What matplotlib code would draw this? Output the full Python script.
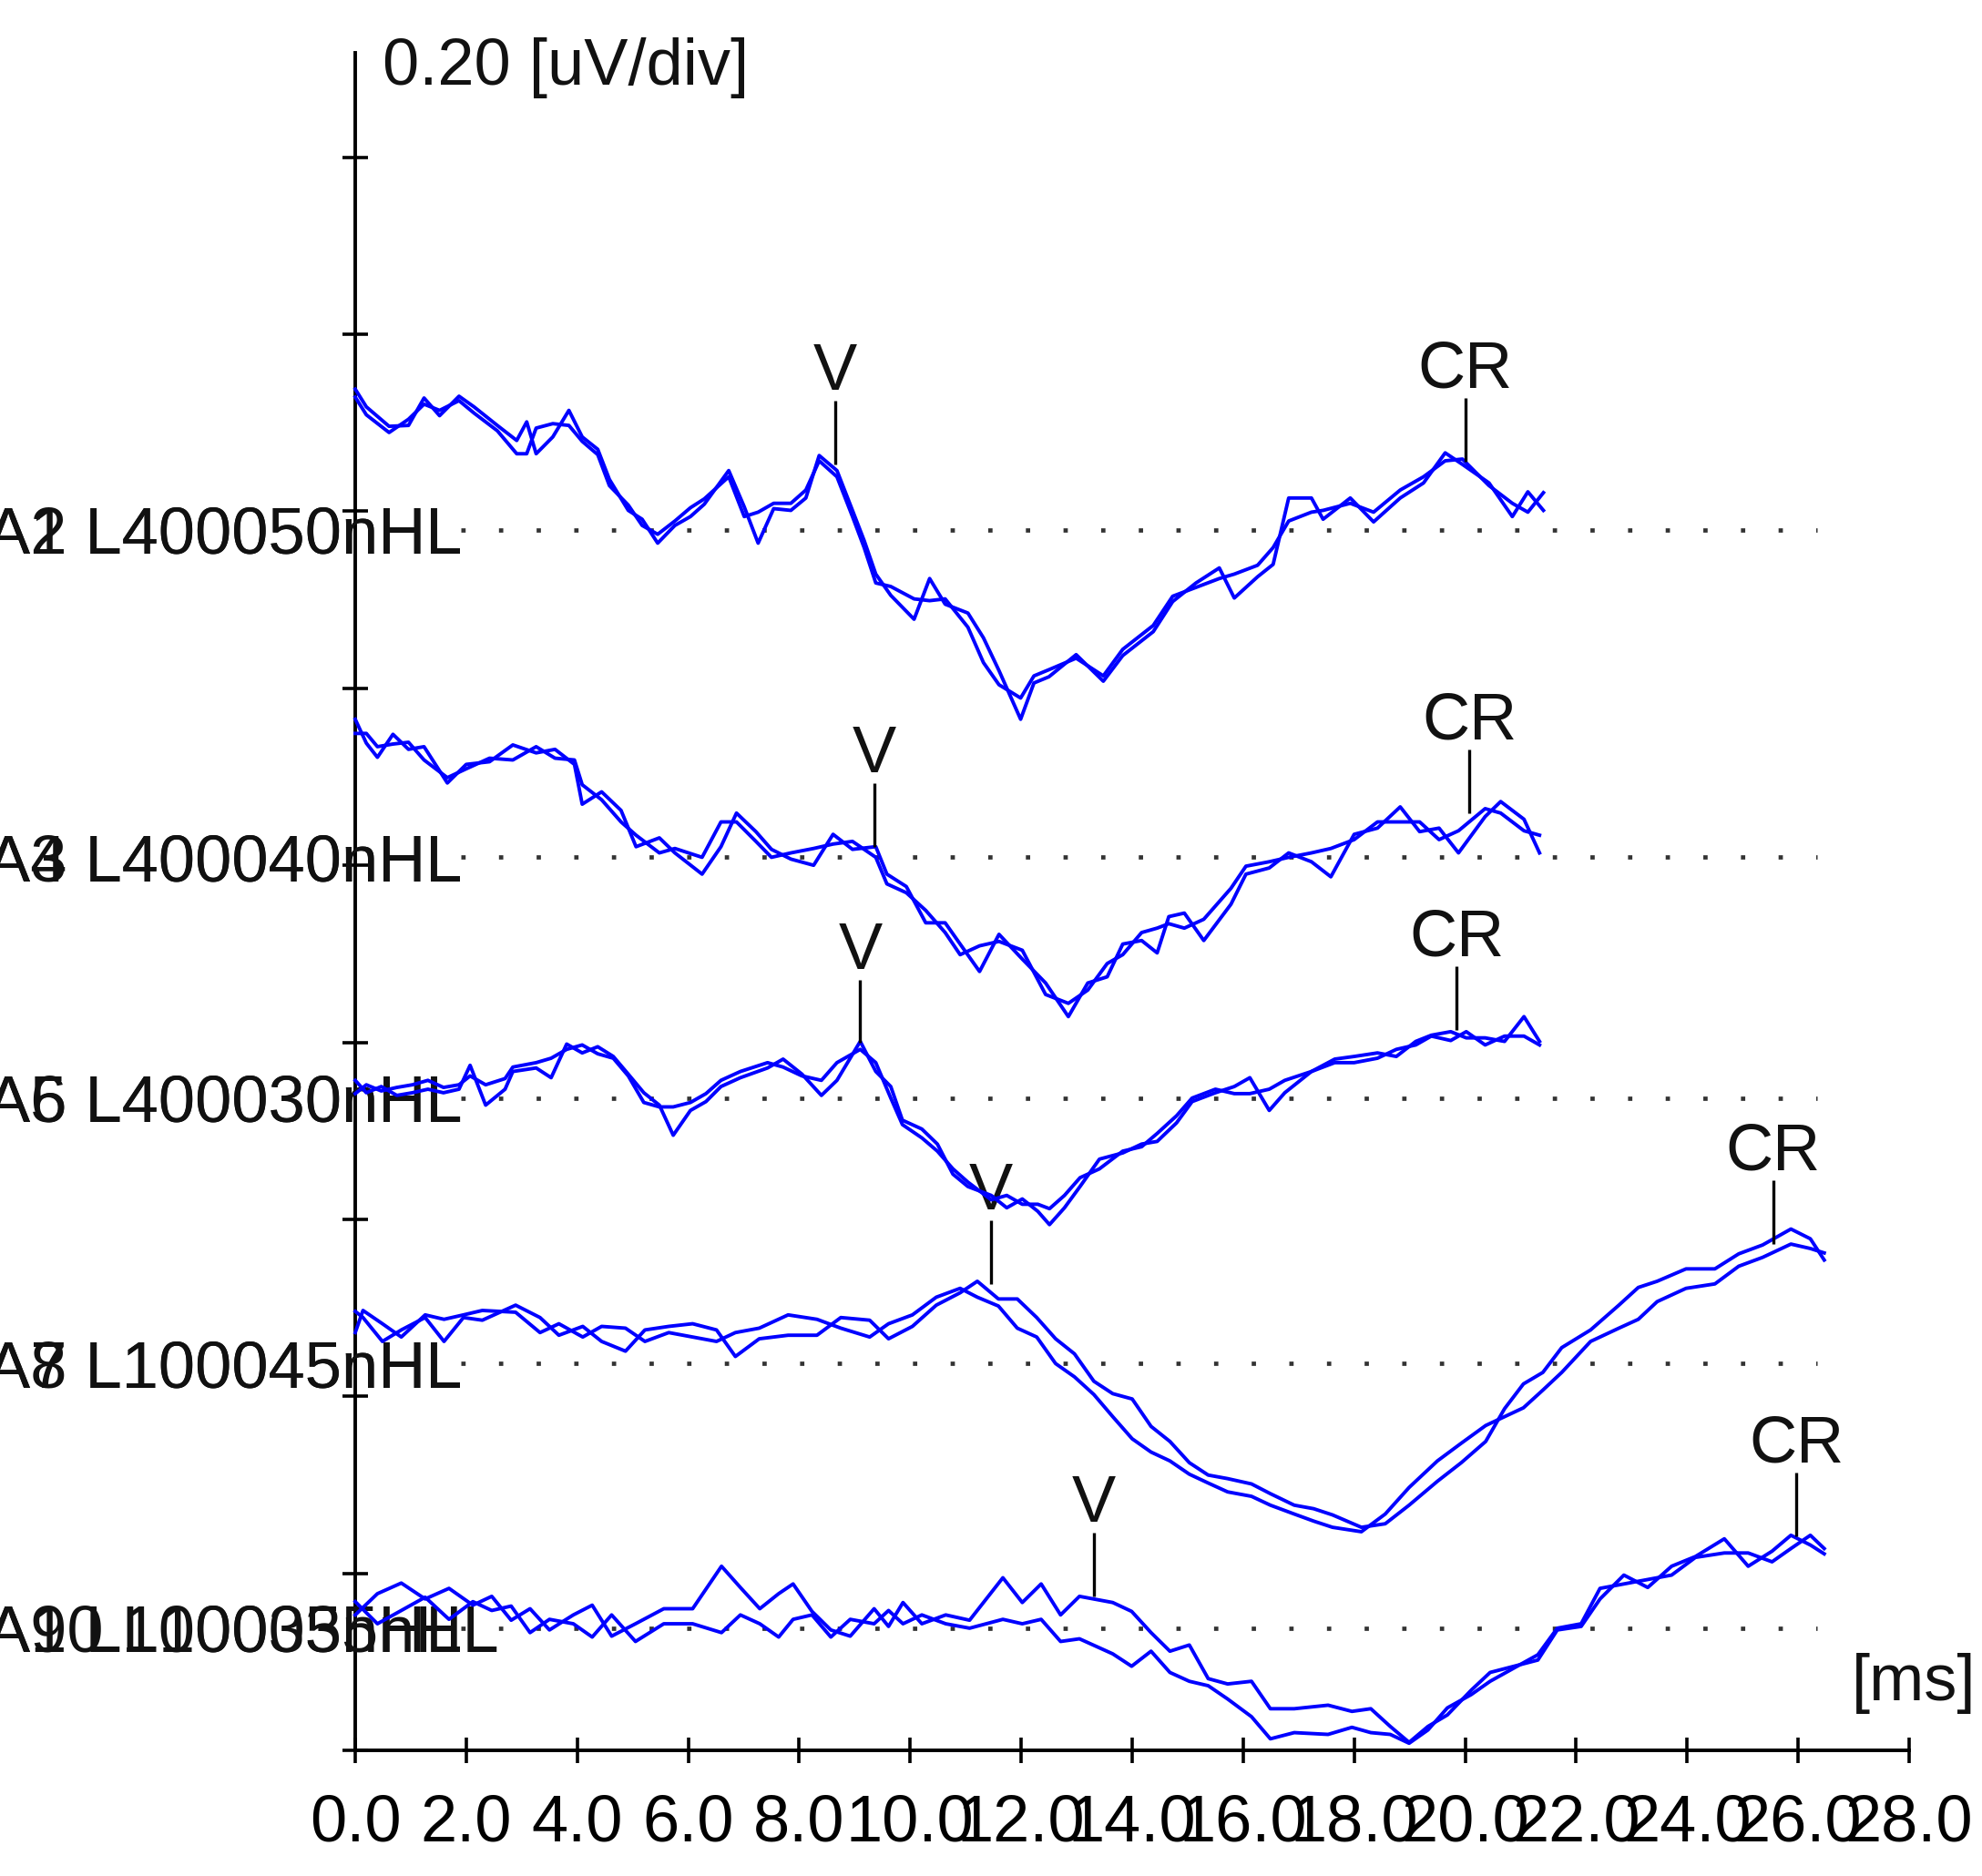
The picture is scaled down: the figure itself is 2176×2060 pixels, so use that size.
import matplotlib
matplotlib.use("Agg")
import matplotlib.pyplot as plt
from matplotlib import font_manager
from matplotlib.transforms import blended_transform_factory

# police : narrow si dispo (le texte de la capture est etroit)
names = set(f.name for f in font_manager.fontManager.ttflist)
if "Liberation Sans Narrow" in names:
    fam, fs = "Liberation Sans Narrow", 64
else:
    fam, fs = "Liberation Sans", 52

# %% donnees : 5 traces, 2 replications chacune (uV relatifs a la ligne de base)
baselines = [1.379, 1.009, 0.737, 0.437, 0.138]
labels_a = ["A1 L400050nHL", "A3 L400040nHL", "A5 L400030nHL", "A7 L100045nHL", "A9 L100035nHL"]
labels_b = ["A2 L400050nHL", "A4 L400040nHL", "A6 L400030nHL", "A8 L100045nHL", "A10 L100035nHL"]

t1 = [0.0, 0.20, 0.61, 0.96, 1.24, 1.52, 1.87, 2.14, 2.56, 2.91, 3.09, 3.26, 3.56, 3.85, 4.09, 4.37, 4.58,
      4.92, 5.17, 5.45, 5.76, 6.04, 6.29, 6.73, 7.01, 7.26, 7.54, 7.85, 8.12, 8.36, 8.68, 8.96, 9.17, 9.38,
      9.65, 10.07, 10.35, 10.63, 11.04, 11.32, 11.60, 11.99, 12.23, 12.50, 12.99, 13.48, 13.83, 14.38, 14.73,
      15.15, 15.57, 15.84, 16.26, 16.54, 16.82, 17.23, 17.44, 17.93, 18.35, 18.83, 19.25, 19.64, 19.95, 20.43,
      20.85, 21.13, 21.41]
a1 = [0.159, 0.139, 0.117, 0.118, 0.149, 0.129, 0.151, 0.139, 0.118, 0.101, 0.122, 0.086, 0.105, 0.135, 0.105,
      0.091, 0.057, 0.022, 0.012, -0.015, 0.005, 0.015, 0.029, 0.067, 0.026, -0.015, 0.024, 0.022, 0.036, 0.084,
      0.067, 0.022, -0.012, -0.050, -0.074, -0.101, -0.055, -0.084, -0.094, -0.122, -0.159, -0.214, -0.173,
      -0.166, -0.141, -0.171, -0.142, -0.115, -0.081, -0.060, -0.043, -0.077, -0.053, -0.039, 0.036, 0.036,
      0.012, 0.036, 0.009, 0.036, 0.053, 0.087, 0.074, 0.053, 0.015, 0.043, 0.022]
b1 = [0.150, 0.130, 0.110, 0.125, 0.142, 0.135, 0.146, 0.132, 0.112, 0.086, 0.086, 0.115, 0.120, 0.118, 0.100,
      0.085, 0.050, 0.028, 0.005, -0.005, 0.010, 0.025, 0.035, 0.060, 0.015, 0.020, 0.030, 0.030, 0.045, 0.078,
      0.060, 0.015, -0.020, -0.060, -0.064, -0.078, -0.080, -0.078, -0.110, -0.150, -0.175, -0.190, -0.165,
      -0.158, -0.145, -0.165, -0.135, -0.108, -0.075, -0.065, -0.055, -0.050, -0.040, -0.020, 0.010, 0.020,
      0.022, 0.030, 0.020, 0.045, 0.060, 0.078, 0.080, 0.050, 0.030, 0.020, 0.042]

t2 = [0.0, 0.20, 0.40, 0.68, 0.96, 1.24, 1.66, 2.00, 2.42, 2.84, 3.26, 3.60, 3.95, 4.09, 4.44, 4.79, 5.06,
      5.48, 5.76, 6.25, 6.59, 6.87, 7.22, 7.50, 7.85, 8.26, 8.61, 8.96, 9.38, 9.58, 9.93, 10.28, 10.63, 10.90,
      11.25, 11.60, 12.02, 12.44, 12.85, 13.20, 13.55, 13.83, 14.17, 14.45, 14.66, 14.94, 15.29, 15.78, 16.05,
      16.47, 16.82, 17.23, 17.58, 18.00, 18.42, 18.83, 19.18, 19.53, 19.88, 20.36, 20.64, 21.06, 21.34]
a2 = [0.156, 0.129, 0.113, 0.139, 0.122, 0.125, 0.084, 0.105, 0.108, 0.127, 0.118, 0.122, 0.105, 0.060, 0.074,
      0.053, 0.012, 0.022, 0.005, -0.019, 0.012, 0.050, 0.029, 0.009, -0.002, -0.009, 0.026, 0.009, 0.012,
      -0.019, -0.033, -0.074, -0.074, -0.098, -0.129, -0.087, -0.115, -0.142, -0.180, -0.142, -0.135, -0.098,
      -0.094, -0.108, -0.067, -0.063, -0.094, -0.053, -0.019, -0.012, 0.005, -0.005, -0.022, 0.026, 0.033,
      0.057, 0.029, 0.033, 0.005, 0.046, 0.063, 0.043, 0.005]
b2 = [0.140, 0.140, 0.125, 0.128, 0.130, 0.110, 0.090, 0.100, 0.112, 0.110, 0.125, 0.112, 0.110, 0.082, 0.065,
      0.040, 0.025, 0.005, 0.010, 0.000, 0.040, 0.040, 0.018, 0.000, 0.005, 0.010, 0.015, 0.018, 0.000, -0.030,
      -0.040, -0.060, -0.085, -0.110, -0.100, -0.095, -0.105, -0.155, -0.165, -0.150, -0.120, -0.110, -0.085,
      -0.080, -0.075, -0.080, -0.070, -0.035, -0.010, -0.005, 0.000, 0.005, 0.010, 0.020, 0.040, 0.040, 0.040,
      0.020, 0.030, 0.055, 0.050, 0.030, 0.025]

t3 = [0.0, 0.20, 0.47, 0.75, 1.03, 1.31, 1.59, 1.87, 2.07, 2.35, 2.70, 2.84, 3.26, 3.53, 3.81, 4.09, 4.37,
      4.65, 4.92, 5.20, 5.48, 5.73, 6.04, 6.32, 6.59, 6.94, 7.43, 7.71, 8.05, 8.40, 8.68, 9.10, 9.38, 9.65,
      9.86, 10.21, 10.49, 10.77, 11.04, 11.46, 11.74, 12.02, 12.30, 12.51, 12.78, 13.06, 13.41, 13.83, 14.17,
      14.45, 14.80, 15.08, 15.50, 15.84, 16.12, 16.47, 16.75, 17.23, 17.65, 18.00, 18.42, 18.76, 19.11, 19.39,
      19.74, 20.02, 20.36, 20.71, 21.06, 21.34]
a3 = [0.020, 0.006, 0.013, 0.003, 0.006, 0.010, 0.006, 0.010, 0.037, -0.008, 0.010, 0.030, 0.034, 0.023, 0.061,
      0.051, 0.058, 0.047, 0.027, 0.006, -0.008, -0.042, -0.014, -0.004, 0.013, 0.023, 0.034, 0.044, 0.027,
      0.003, 0.020, 0.064, 0.030, 0.013, -0.025, -0.035, -0.052, -0.086, -0.100, -0.110, -0.124, -0.114, -0.128,
      -0.143, -0.124, -0.100, -0.069, -0.062, -0.052, -0.049, -0.028, -0.004, 0.006, 0.013, 0.023, -0.014,
      0.006, 0.030, 0.044, 0.047, 0.051, 0.047, 0.064, 0.071, 0.075, 0.068, 0.068, 0.064, 0.092, 0.064]
b3 = [0.005, 0.015, 0.008, 0.012, 0.015, 0.020, 0.012, 0.015, 0.025, 0.015, 0.022, 0.035, 0.040, 0.045, 0.055,
      0.060, 0.050, 0.045, 0.025, -0.005, -0.010, -0.010, -0.005, 0.005, 0.020, 0.030, 0.040, 0.035, 0.025,
      0.020, 0.040, 0.055, 0.040, 0.000, -0.030, -0.045, -0.060, -0.080, -0.095, -0.115, -0.110, -0.120, -0.120,
      -0.125, -0.110, -0.090, -0.080, -0.060, -0.055, -0.040, -0.020, 0.000, 0.010, 0.005, 0.005, 0.010, 0.020,
      0.030, 0.040, 0.040, 0.045, 0.055, 0.060, 0.070, 0.065, 0.075, 0.060, 0.070, 0.070, 0.060]

t4 = [0.0, 0.14, 0.49, 0.83, 1.26, 1.60, 1.95, 2.29, 2.89, 3.33, 3.67, 4.10, 4.44, 4.87, 5.22, 5.65, 6.08,
      6.51, 6.85, 7.28, 7.80, 8.32, 8.75, 9.27, 9.61, 10.04, 10.47, 10.90, 11.21, 11.59, 11.93, 12.28, 12.62,
      12.96, 13.31, 13.65, 14.00, 14.34, 14.68, 15.03, 15.37, 15.72, 16.15, 16.49, 16.92, 17.27, 17.61, 18.13,
      18.56, 18.99, 19.50, 19.93, 20.37, 20.71, 21.05, 21.40, 21.74, 22.26, 22.77, 23.12, 23.46, 23.98, 24.50,
      24.93, 25.36, 25.87, 26.22, 26.47]
a4 = [0.059, 0.052, 0.025, 0.038, 0.052, 0.025, 0.052, 0.049, 0.066, 0.052, 0.032, 0.042, 0.025, 0.014, 0.038,
      0.042, 0.045, 0.038, 0.008, 0.028, 0.032, 0.032, 0.052, 0.049, 0.028, 0.042, 0.066, 0.080, 0.093, 0.073,
      0.073, 0.052, 0.028, 0.011, -0.020, -0.034, -0.040, -0.071, -0.088, -0.112, -0.126, -0.130, -0.136,
      -0.147, -0.160, -0.164, -0.171, -0.185, -0.181, -0.160, -0.133, -0.112, -0.088, -0.051, -0.023, -0.010,
      0.018, 0.038, 0.066, 0.086, 0.093, 0.107, 0.107, 0.124, 0.134, 0.152, 0.141, 0.117]
b4 = [0.035, 0.060, 0.045, 0.030, 0.055, 0.050, 0.055, 0.060, 0.058, 0.035, 0.045, 0.030, 0.042, 0.040, 0.025,
      0.035, 0.030, 0.025, 0.035, 0.040, 0.055, 0.050, 0.040, 0.030, 0.045, 0.055, 0.075, 0.085, 0.075, 0.065,
      0.040, 0.030, 0.000, -0.015, -0.035, -0.060, -0.085, -0.100, -0.110, -0.125, -0.135, -0.145, -0.150,
      -0.160, -0.170, -0.178, -0.185, -0.190, -0.170, -0.140, -0.110, -0.090, -0.070, -0.060, -0.050, -0.030,
      -0.010, 0.025, 0.040, 0.050, 0.070, 0.085, 0.090, 0.110, 0.120, 0.135, 0.130, 0.125]

t5 = [0.0, 0.40, 0.83, 1.26, 1.69, 2.12, 2.46, 2.81, 3.15, 3.50, 3.93, 4.27, 4.62, 5.05, 5.56, 6.08, 6.60,
      6.94, 7.29, 7.63, 7.89, 8.23, 8.57, 8.92, 9.35, 9.61, 9.87, 10.21, 10.64, 11.07, 11.67, 12.02, 12.36,
      12.71, 13.05, 13.65, 13.99, 14.34, 14.68, 15.03, 15.37, 15.72, 16.15, 16.49, 16.92, 17.53, 17.96, 18.30,
      18.65, 18.99, 19.33, 19.68, 20.11, 20.45, 20.88, 21.31, 21.66, 22.09, 22.43, 22.86, 23.29, 23.72, 24.15,
      24.67, 25.10, 25.53, 25.87, 26.22, 26.47]
a5 = [0.015, 0.039, 0.051, 0.033, 0.045, 0.026, 0.036, 0.009, 0.022, -0.002, 0.015, 0.026, -0.009, 0.005, 0.022,
      0.022, 0.070, 0.046, 0.022, 0.039, 0.050, 0.019, -0.002, -0.009, 0.022, 0.002, 0.029, 0.005, 0.015, 0.009,
      0.057, 0.029, 0.050, 0.015, 0.036, 0.029, 0.019, -0.005, -0.026, -0.019, -0.057, -0.063, -0.060, -0.091,
      -0.091, -0.087, -0.094, -0.091, -0.111, -0.129, -0.111, -0.098, -0.070, -0.050, -0.043, -0.036, -0.002,
      0.002, 0.033, 0.060, 0.046, 0.070, 0.081, 0.101, 0.070, 0.087, 0.105, 0.094, 0.084]
b5 = [0.030, 0.005, 0.020, 0.035, 0.010, 0.030, 0.020, 0.025, -0.005, 0.010, 0.005, -0.010, 0.015, -0.015, 0.005,
      0.005, -0.005, 0.015, 0.005, -0.010, 0.010, 0.015, -0.010, 0.010, 0.005, 0.020, 0.005, 0.015, 0.005, 0.000,
      0.010, 0.005, 0.010, -0.015, -0.012, -0.029, -0.043, -0.026, -0.050, -0.060, -0.065, -0.080, -0.100,
      -0.125, -0.118, -0.120, -0.112, -0.118, -0.120, -0.130, -0.115, -0.090, -0.075, -0.060, -0.045, -0.030,
      0.000, 0.005, 0.045, 0.050, 0.055, 0.060, 0.080, 0.085, 0.085, 0.075, 0.090, 0.105, 0.090]

times = [t1, t2, t3, t4, t5]
rep_a = [a1, a2, a3, a4, a5]
rep_b = [b1, b2, b3, b4, b5]

# pics marques (latence ms, amplitude uV relative)
v_ms = [8.65, 9.35, 9.10, 11.46, 13.31]
v_amp = [0.074, 0.012, 0.062, 0.090, 0.036]
cr_ms = [20.0, 20.08, 19.85, 25.55, 25.97]
cr_amp = [0.077, 0.050, 0.077, 0.135, 0.104]

xticks = [0, 2, 4, 6, 8, 10, 12, 14, 16, 18, 20, 22, 24, 26, 28]
xticklabels = ["%.1f" % v for v in xticks]
yticks = [0.0, 0.2, 0.4, 0.6, 0.8, 1.0, 1.2, 1.4, 1.6, 1.8]

# %% figure
W, H = 2176, 2060
fig = plt.figure(figsize=(W / 100, H / 100), dpi=100)
ax = fig.add_axes([390 / W, 138 / H, 1706 / W, 1864 / H])
ax.set_xlim(0, 28)
ax.set_ylim(0, 1.918)

for s in ["top", "right"]:
    ax.spines[s].set_visible(False)
for s in ["left", "bottom"]:
    ax.spines[s].set_linewidth(2.8)
    ax.spines[s].set_color("black")

ax.set_xticks(xticks, xticklabels, fontsize=fs, family=fam)
ax.set_yticks(yticks, [""] * len(yticks))
ax.tick_params(axis="both", direction="inout", length=20, width=2.6, color="black")
ax.tick_params(axis="x", pad=24)

lab_tr = blended_transform_factory(fig.transFigure, ax.transData)
for i, b in enumerate(baselines):
    # ligne de base pointillee
    ax.hlines(b, 1.9, 26.35, colors="#333333", linewidth=3.4, linestyles=(0, (1, 7.75)))
    # etiquettes superposees (comme sur la capture)
    ax.text(-0.0069, b, labels_a[i], transform=lab_tr, ha="left", va="center_baseline",
            fontsize=fs, family=fam, color="#111111")
    ax.text(-0.0069, b, labels_b[i], transform=lab_tr, ha="left", va="center_baseline",
            fontsize=fs, family=fam, color="#111111")
    for rep in (rep_a[i], rep_b[i]):
        ax.plot(times[i], [b + v for v in rep], color="#0000ff", linewidth=2.8, zorder=4, clip_on=False)
    # marqueurs V et CR
    for ms, amp, txt in ((v_ms[i], v_amp[i], "V"), (cr_ms[i], cr_amp[i], "CR")):
        y0 = b + amp
        ax.vlines(ms, y0, y0 + 0.072, colors="black", linewidth=2.4, zorder=5)
        ax.text(ms, y0 + 0.084, txt, ha="center", va="baseline", fontsize=fs, family=fam, color="#111111")

ax.text(0.5, 1.882, "0.20 [uV/div]", ha="left", va="baseline", fontsize=fs, family=fam, color="#111111")
ax.text(26.97, 0.057, "[ms]", ha="left", va="baseline", fontsize=fs, family=fam, color="#111111")

fig.savefig("out.png", dpi=100)
